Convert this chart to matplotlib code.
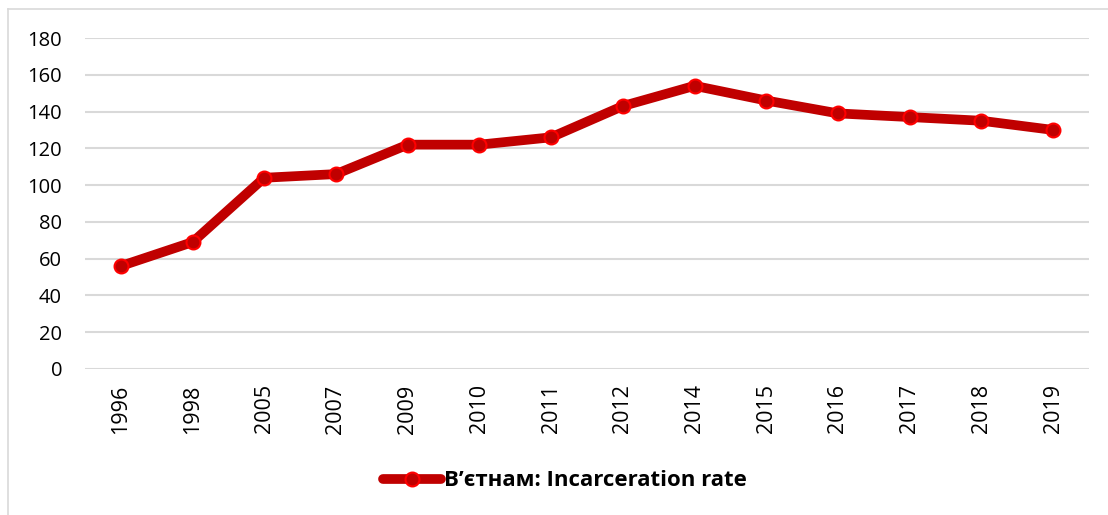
import matplotlib
matplotlib.use("Agg")
import matplotlib.pyplot as plt
from matplotlib.lines import Line2D

years = ["1996", "1998", "2005", "2007", "2009", "2010", "2011", "2012",
         "2014", "2015", "2016", "2017", "2018", "2019"]
rates = [56, 69, 104, 106, 122, 122, 126, 143, 154, 146, 139, 137, 135, 130]
yticks = [0, 20, 40, 60, 80, 100, 120, 140, 160, 180]
series_label = "В’єтнам: Incarceration rate"

W, H = 1108, 515
fig = plt.figure(figsize=(W / 100, H / 100), dpi=100)
plt.rcParams['font.family'] = ['Open Sans', 'DejaVu Sans']

# outer chart border (left and top visible)
fig.add_artist(Line2D([8 / W, 8 / W], [0, 1 - 9 / H], transform=fig.transFigure,
                      color="#D9D9D9", lw=1.2))
fig.add_artist(Line2D([8 / W, 1], [1 - 9 / H, 1 - 9 / H], transform=fig.transFigure,
                      color="#D9D9D9", lw=1.2))

left, right = 85, 1089
top, bottom = 38, 369
ax = fig.add_axes([left / W, 1 - bottom / H, (right - left) / W, (bottom - top) / H])

x = list(range(len(years)))
ax.plot(x, rates, color="#C00000", lw=7, solid_capstyle="round", solid_joinstyle="round",
        marker="o", ms=10, mfc="#C00000", mec="#FF0000", mew=1.5, zorder=3)

ax.set_xlim(-0.5, len(years) - 0.5)
ax.set_ylim(0, 180)
ax.set_yticks(yticks)
ax.set_yticklabels([str(v) for v in yticks], fontsize=14.5)
ax.set_xticks(x)
ax.set_xticklabels(years, rotation=90, fontsize=15.5)
ax.tick_params(axis="both", length=0, colors="black")
ax.tick_params(axis="y", pad=16.5)
ax.tick_params(axis="x", pad=11)
ax.grid(axis="y", color="#D9D9D9", lw=1.5)
ax.set_axisbelow(True)
for s in ax.spines.values():
    s.set_visible(False)

handle = Line2D([], [], color="#C00000", lw=7, solid_capstyle="round",
                marker="o", ms=10, mfc="#C00000", mec="#FF0000", mew=1.5)
leg = fig.legend([handle], [series_label], loc="center", bbox_to_anchor=(565 / W, 1 - 481 / H),
                 frameon=False, handlelength=2.6, handletextpad=0.15,
                 prop={"weight": "bold", "size": 16})

fig.savefig("out.png", dpi=100)
